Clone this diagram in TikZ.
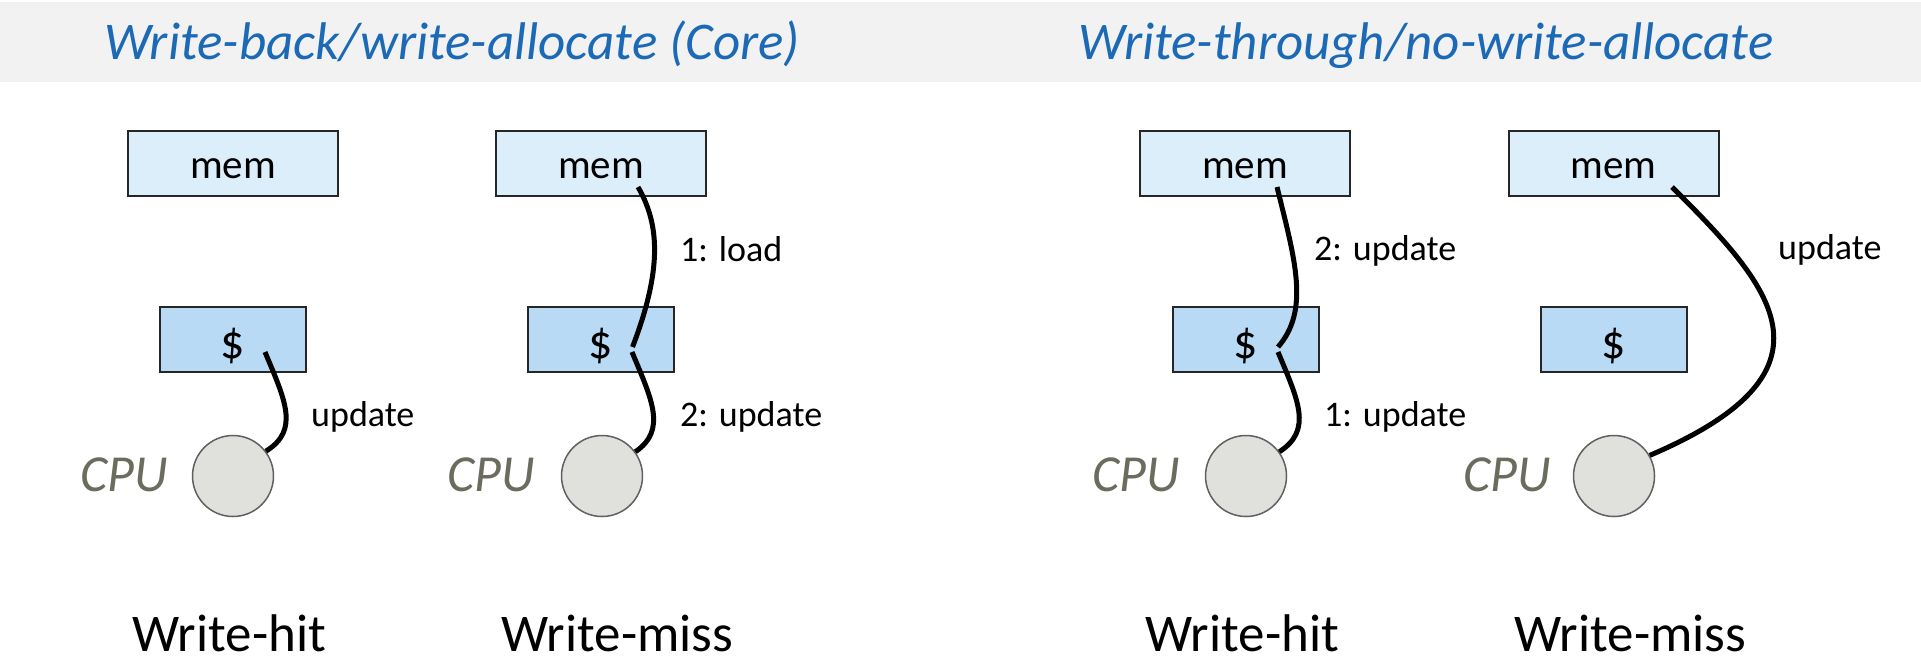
\documentclass[tikz,border=0pt]{standalone}
\usepackage{fontspec}
\setmainfont{Carlito}
\definecolor{headgray}{RGB}{242,242,242}
\definecolor{titleblue}{RGB}{28,106,182}
\definecolor{memfill}{RGB}{221,238,251}
\definecolor{cachefill}{RGB}{184,218,245}
\definecolor{boxline}{RGB}{38,38,38}
\definecolor{cpufill}{RGB}{224,224,220}
\definecolor{cpuline}{RGB}{96,96,96}
\definecolor{cputext}{RGB}{107,107,94}
\begin{document}
\begin{tikzpicture}[x=1pt,y=-1pt,
  membox/.style={draw=boxline,line width=2pt,fill=memfill,minimum width=210pt,minimum height=65pt,inner sep=0pt,text height=29pt,text depth=0pt,font=\fontsize{41}{48}\selectfont},
  cachebox/.style={draw=boxline,line width=2pt,fill=cachefill,minimum width=146pt,minimum height=65pt,inner sep=0pt,text height=37pt,text depth=0pt,font=\fontsize{48}{54}\selectfont},
  cpunode/.style={circle,draw=cpuline,line width=1.5pt,fill=cpufill,minimum size=81pt,inner sep=0pt},
  cpulabel/.style={anchor=east,inner sep=0pt,text=cputext,font=\fontsize{52}{60}\selectfont\itshape},
  wire/.style={line width=5pt,draw=black},
  lbl/.style={anchor=west,inner sep=0pt,font=\fontsize{36}{42}\selectfont},
  headtitle/.style={anchor=base west,inner sep=0pt,text=titleblue,font=\fontsize{53}{60}\selectfont\itshape},
  bottomcap/.style={anchor=base west,inner sep=0pt,font=\fontsize{53}{60}\selectfont}]
\useasboundingbox (0,0) rectangle (1921,657);
\fill[headgray] (0,2) rectangle (1921,82);

\node[headtitle] (t1) at (104,59) {Write-back/write-allocate (Core)};
\node[headtitle] (t2) at (1078,59) {Write-through/no-write-allocate};

% panel 1
\node[membox] (mem1) at (233,163.5) {mem};
\node[cachebox] (c1) at (233,339.5) {\$};
\node[cpunode] (cpu1) at (233,476) {};
\node[cpulabel] (cl1) at (168,475) {CPU};
\coordinate (p1a) at (265,352);
\draw[wire] (p1a) .. controls (285,400) and (300,430) .. (cpu1.37);
\node[lbl] (u1) at (311,417) {update};
\node[bottomcap] (b1) at (132,651) {Write-hit};

% panel 2
\node[membox] (mem2) at (601,163.5) {mem};
\node[cachebox] (c2) at (601,339.5) {\$};
\node[cpunode] (cpu2) at (602,476) {};
\node[cpulabel] (cl2) at (535,475) {CPU};
\coordinate (p2a) at (638,187);
\coordinate (p2b) at (632.5,347);
\coordinate (p2c) at (632,352);
\draw[wire] (p2a) .. controls (660,225) and (662,270) .. (p2b);
\draw[wire] (p2c) .. controls (652,400) and (667,430) .. (cpu2.36);
\node[lbl] (u2a) at (680,249) {1: load};
\node[lbl] (u2b) at (680,417) {2: update};
\node[bottomcap] (b2) at (501,651) {Write-miss};

% panel 3
\node[membox] (mem3) at (1245,163.5) {mem};
\node[cachebox] (c3) at (1245.5,339.5) {\$};
\node[cpunode] (cpu3) at (1246,476) {};
\node[cpulabel] (cl3) at (1180,475) {CPU};
\coordinate (p3a) at (1277,187);
\coordinate (p3b) at (1278,347);
\coordinate (p3c) at (1278,352);
\draw[wire] (p3a) .. controls (1295,260) and (1310,310) .. (p3b);
\draw[wire] (p3c) .. controls (1298,400) and (1313,430) .. (cpu3.36);
\node[lbl] (u3a) at (1314,251) {2: update};
\node[lbl] (u3b) at (1324,417) {1: update};
\node[bottomcap] (b3) at (1145,651) {Write-hit};

% panel 4
\node[membox] (mem4) at (1613.5,163.5) {mem};
\node[cachebox] (c4) at (1614,339.5) {\$};
\node[cpunode] (cpu4) at (1614,476) {};
\node[cpulabel] (cl4) at (1551,475) {CPU};
\coordinate (p4a) at (1672,187);
\draw[wire] (p4a) .. controls (1770,285) and (1850,370) .. (cpu4.30);
\node[lbl] (u4) at (1778,250) {update};
\node[bottomcap] (b4) at (1514,651) {Write-miss};
\end{tikzpicture}
\end{document}
